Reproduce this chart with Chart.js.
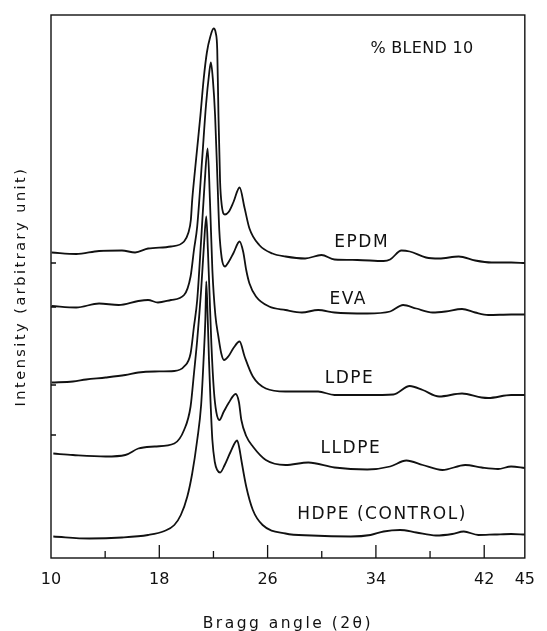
<!DOCTYPE html>
<html>
<head>
<meta charset="utf-8">
<script src="https://cdn.jsdelivr.net/npm/chart.js@4.4.1/dist/chart.umd.min.js"></script>
<style>
  html, body { margin: 0; padding: 0; background: #fff; }
  #wrap { position: relative; width: 547px; height: 631px; }
</style>
</head>
<body>
<div id="wrap"><canvas id="c"></canvas></div>
<script>
// ---- Data (Bragg angle 2θ in degrees, intensity in arbitrary units, curves offset as in the figure) ----
const epdmAngle = [10.05,11.86,13.55,15.24,16.21,17.17,18.86,19.83,20.14,20.33,20.43,20.58,20.80,21.04,21.27,21.52,21.76,22.01,22.17,22.28,22.37,22.49,22.61,22.85,23.12,23.48,23.93,24.30,24.66,25.38,26.36,27.32,28.77,29.98,30.94,32.63,34.57,35.05,35.89,36.50,37.70,38.67,40.12,41.33,42.54,43.99,45.00];
const epdmIntensity = [61.1,60.8,61.4,61.5,61.1,61.9,62.3,63.3,65.0,67.6,71.6,76.0,82.0,88.6,95.6,101.2,104.2,105.9,105.0,101.6,88.6,75.3,70.6,68.7,69.2,71.2,74.1,70.0,65.9,62.6,60.9,60.3,59.9,60.6,59.7,59.6,59.4,59.7,61.5,61.3,60.1,59.9,60.3,59.5,59.1,59.1,59.0];

const evaAngle = [10.05,11.86,13.55,15.00,16.45,17.17,17.90,18.86,19.83,20.31,20.56,20.80,21.16,21.45,21.67,21.81,21.96,22.12,22.30,22.43,22.61,22.85,23.12,23.48,23.93,24.20,24.42,24.66,25.14,26.11,27.32,28.53,29.73,30.94,33.36,35.05,36.01,36.98,38.19,39.15,40.36,41.33,42.30,43.99,45.00];
const evaIntensity = [50.4,50.1,50.9,50.6,51.4,51.6,51.1,51.6,52.6,56.3,61.6,66.3,79.6,90.6,96.6,99.1,95.6,88.6,75.2,65.6,60.0,58.3,59.2,61.0,63.3,61.2,57.6,54.9,52.3,50.3,49.6,49.1,49.6,49.1,48.9,49.3,50.6,49.9,49.1,49.3,49.8,49.1,48.6,48.7,48.7];

const ldpeAngle = [10.05,11.62,12.59,14.04,15.49,16.45,17.66,19.11,19.83,20.31,20.56,20.80,21.09,21.34,21.57,21.74,21.92,22.14,22.37,22.57,22.78,23.12,23.48,23.93,24.30,24.91,25.87,27.32,29.73,30.94,33.36,35.29,36.50,37.46,38.67,40.36,41.81,42.30,43.99,45.00];
const ldpeIntensity = [35.1,35.3,35.7,36.1,36.6,37.1,37.3,37.4,38.3,40.9,46.3,51.6,63.6,74.6,81.9,71.6,57.6,48.6,44.2,41.0,39.6,40.4,42.0,43.3,40.3,36.3,33.9,33.3,33.3,32.6,32.6,32.7,34.4,33.6,32.3,32.9,32.1,32.0,32.6,32.6];

const lldpeAngle = [10.17,11.62,14.04,15.49,16.45,17.66,19.11,19.83,20.31,20.56,20.80,21.09,21.30,21.47,21.59,21.70,21.85,22.03,22.21,22.44,22.75,23.12,23.64,23.88,24.06,24.42,24.91,25.87,27.32,29.01,30.94,33.36,35.05,36.25,37.46,38.91,40.60,41.81,43.02,43.99,45.00];
const lldpeIntensity = [20.9,20.6,20.3,20.6,21.9,22.3,22.9,25.6,30.3,36.9,43.6,53.6,62.6,68.3,61.6,53.6,42.6,33.6,29.2,27.6,29.2,31.0,32.8,31.2,27.6,24.4,22.3,19.6,18.6,19.1,18.1,17.7,18.3,19.5,18.6,17.6,18.6,18.1,17.8,18.3,18.0];

const hdpeAngle = [10.17,12.83,15.24,17.17,18.38,19.11,19.59,20.07,20.43,20.80,21.09,21.27,21.40,21.47,21.58,21.67,21.78,21.92,22.10,22.28,22.49,22.83,23.26,23.75,23.91,24.06,24.42,24.91,25.63,27.32,29.25,32.15,33.60,34.57,35.78,36.98,38.43,39.64,40.49,41.57,42.78,43.99,45.00];
const hdpeIntensity = [4.3,3.9,4.1,4.6,5.4,6.6,8.6,12.3,16.9,23.6,30.6,39.6,47.6,55.3,47.6,39.6,31.6,23.6,19.2,17.6,17.1,18.6,21.2,23.5,22.0,19.6,14.3,9.6,6.6,4.9,4.5,4.3,4.6,5.3,5.6,5.1,4.5,4.8,5.3,4.6,4.7,4.8,4.7];

const seriesNames = ['EPDM', 'EVA', 'LDPE', 'LLDPE', 'HDPE (CONTROL)'];
const labelAngle = [32.95, 31.95, 32.05, 32.15, 34.45];
const labelIntensity = [63.0, 51.6, 35.8, 21.8, 8.6];

const noteText = '% BLEND 10';
const noteAngle = 37.4;
const noteIntensity = 101.9;

const xTickValues = [10, 14, 18, 22, 26, 30, 34, 38, 42, 45];
const xTickLabels = [10, 18, 26, 34, 42, 45];
const xMajorInner = [18, 26, 34, 42];
const xMinorInner = [14, 22, 30, 38];
const yInnerMarks = [59.0, 50.2, 34.6, 24.6];
const xMin = 10, xMax = 45, yMin = 0, yMax = 108.6;

// ---- build ----
function pts(a, b) { return a.map((v, i) => ({ x: v, y: b[i] })); }
const allSeries = [
  pts(epdmAngle, epdmIntensity),
  pts(evaAngle, evaIntensity),
  pts(ldpeAngle, ldpeIntensity),
  pts(lldpeAngle, lldpeIntensity),
  pts(hdpeAngle, hdpeIntensity)
];
const INK = '#111';
const FONT = '"DejaVu Sans", sans-serif';

const overlay = {
  id: 'overlay',
  // wide spacing for the axis titles (drawn in the background layer)
  beforeDraw(chart) { chart.ctx.letterSpacing = '2.5px'; },
  // normal spacing for tick labels (drawn in a layer above the datasets)
  afterDatasetsDraw(chart) { chart.ctx.letterSpacing = '0px'; },
  afterDraw(chart) {
    const { ctx, chartArea: a, scales } = chart;
    const x = scales.x, y = scales.y;
    ctx.save();
    ctx.letterSpacing = '0px';
    ctx.strokeStyle = INK;
    ctx.lineWidth = 1.4;
    ctx.strokeRect(a.left, a.top, a.right - a.left, a.bottom - a.top);
    ctx.beginPath();
    xMajorInner.forEach(v => { const p = x.getPixelForValue(v); ctx.moveTo(p, a.bottom); ctx.lineTo(p, a.bottom - 13); });
    xMinorInner.forEach(v => { const p = x.getPixelForValue(v); ctx.moveTo(p, a.bottom); ctx.lineTo(p, a.bottom - 7); });
    yInnerMarks.forEach(v => { const p = y.getPixelForValue(v); ctx.moveTo(a.left, p); ctx.lineTo(a.left + 5, p); });
    ctx.lineWidth = 1.3;
    ctx.stroke();

    ctx.fillStyle = INK;
    ctx.textAlign = 'center';
    ctx.textBaseline = 'middle';
    ctx.font = '17px ' + FONT;
    ctx.letterSpacing = '1.5px';
    seriesNames.forEach((t, i) => {
      ctx.fillText(t, x.getPixelForValue(labelAngle[i]), y.getPixelForValue(labelIntensity[i]));
    });
    ctx.font = '16px ' + FONT;
    ctx.letterSpacing = '0.3px';
    ctx.fillText(noteText, x.getPixelForValue(noteAngle), y.getPixelForValue(noteIntensity));
    ctx.restore();
  }
};

new Chart(document.getElementById('c'), {
  type: 'line',
  data: {
    datasets: allSeries.map((d, i) => ({
      label: seriesNames[i],
      data: d,
      borderColor: INK,
      borderWidth: 1.8,
      pointRadius: 0,
      fill: false,
      cubicInterpolationMode: 'monotone'
    }))
  },
  options: {
    responsive: true,
    maintainAspectRatio: false,
    animation: false,
    layout: { padding: { top: 15, right: 13, left: 0, bottom: 0 } },
    plugins: { legend: { display: false }, tooltip: { enabled: false } },
    scales: {
      x: {
        type: 'linear',
        min: xMin, max: xMax,
        afterBuildTicks: s => { s.ticks = xTickValues.map(v => ({ value: v })); },
        afterFit: s => { s.height = 73; },
        grid: { display: false, drawTicks: false },
        border: { display: false },
        ticks: {
          z: 1,
          autoSkip: false, maxRotation: 0, padding: 12,
          color: INK, font: { family: FONT, size: 16 },
          callback: v => xTickLabels.includes(v) ? String(v) : ''
        },
        title: {
          display: true, text: 'Bragg angle (2θ)', color: INK,
          font: { family: FONT, size: 15.5 }, padding: { top: 0, bottom: -2 }
        }
      },
      y: {
        type: 'linear',
        min: yMin, max: yMax,
        afterFit: s => { s.width = 51; },
        grid: { display: false, drawTicks: false },
        border: { display: false },
        ticks: { display: false },
        title: {
          display: true, text: 'Intensity (arbitrary unit)', color: INK,
          font: { family: FONT, size: 14.5 }, padding: { top: 13, bottom: 0 }
        }
      }
    }
  },
  plugins: [overlay]
});
</script>
</body>
</html>
